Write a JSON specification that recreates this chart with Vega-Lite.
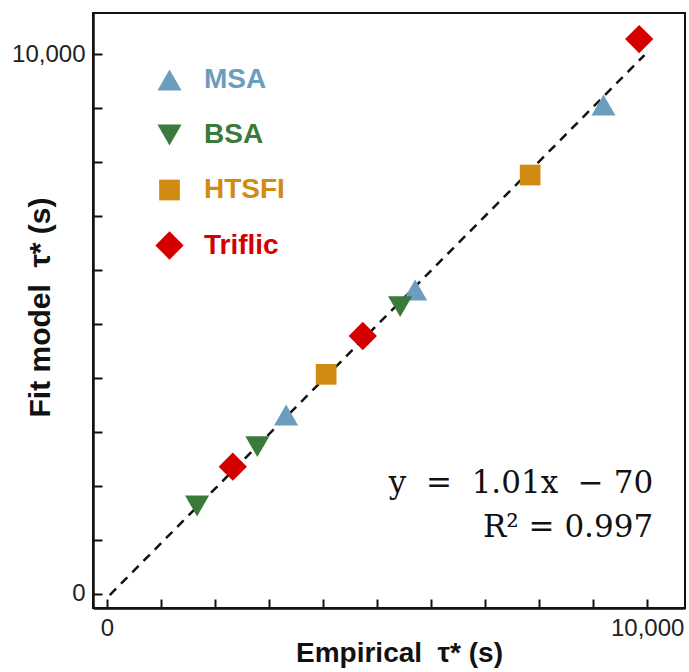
{
  "$schema": "https://vega.github.io/schema/vega-lite/v6.json",
  "width": 592,
  "height": 595,
  "autosize": {"type": "none"},
  "padding": {"left": 93, "top": 13, "right": 4, "bottom": 64},
  "background": "white",
  "config": {
    "view": {"stroke": "#111", "strokeWidth": 2},
    "axis": {
      "grid": false,
      "domainColor": "#111",
      "domainWidth": 2.5,
      "tickColor": "#111",
      "tickWidth": 2,
      "tickSize": -9,
      "labelFont": "Liberation Sans",
      "labelFontSize": 24,
      "labelColor": "#222",
      "titleFont": "Liberation Sans",
      "titleFontSize": 28,
      "titleFontWeight": "bold",
      "titleColor": "#111"
    }
  },
  "datasets": {
    "points": [
      {"type": "MSA", "empirical": 3315, "fit": 3315},
      {"type": "MSA", "empirical": 5704, "fit": 5630},
      {"type": "MSA", "empirical": 9191, "fit": 9056},
      {"type": "BSA", "empirical": 1667, "fit": 1630},
      {"type": "BSA", "empirical": 2783, "fit": 2728},
      {"type": "BSA", "empirical": 5426, "fit": 5321},
      {"type": "HTSFI", "empirical": 4056, "fit": 4068},
      {"type": "HTSFI", "empirical": 7833, "fit": 7759},
      {"type": "Triflic", "empirical": 2328, "fit": 2357},
      {"type": "Triflic", "empirical": 4735, "fit": 4778},
      {"type": "Triflic", "empirical": 9852, "fit": 10278}
    ],
    "fitline": [
      {"empirical": 50, "fit": -20},
      {"empirical": 9950, "fit": 9980}
    ]
  },
  "layer": [
    {
      "data": {"name": "fitline"},
      "mark": {"type": "line", "color": "#111", "strokeWidth": 2.5, "strokeDash": [9, 7]},
      "encoding": {
        "x": {
          "field": "empirical", "type": "quantitative", "title": "Empirical\u00a0\u00a0τ*\u00a0(s)",
          "scale": {"domain": [-260, 10700], "nice": false, "zero": false},
          "axis": {
            "values": [0, 1000, 2000, 3000, 4000, 5000, 6000, 7000, 8000, 9000, 10000],
            "labelExpr": "datum.value == 0 || datum.value == 10000 ? format(datum.value, ',') : ''",
            "labelPadding": 17,
            "labelFlush": false,
            "titleX": 306,
            "titleY": 53,
            "titleBaseline": "alphabetic"
          }
        },
        "y": {
          "field": "fit", "type": "quantitative", "title": "Fit model\u00a0\u00a0τ*\u00a0(s)",
          "scale": {"domain": [-260, 10760], "nice": false, "zero": false},
          "axis": {
            "values": [0, 1000, 2000, 3000, 4000, 5000, 6000, 7000, 8000, 9000, 10000],
            "labelExpr": "datum.value == 0 || datum.value == 10000 ? format(datum.value, ',') : ''",
            "labelPadding": 17,
            "labelFlush": false,
            "titleX": -53,
            "titleY": 294,
            "titleBaseline": "middle",
            "titleAngle": -90,
            "titleFontSize": 30
          }
        }
      }
    },
    {
      "data": {"name": "points"},
      "mark": {"type": "point", "filled": true, "opacity": 1, "strokeWidth": 0},
      "encoding": {
        "x": {"field": "empirical", "type": "quantitative", "title": "Empirical\u00a0\u00a0τ*\u00a0(s)"},
        "y": {"field": "fit", "type": "quantitative", "title": "Fit model\u00a0\u00a0τ*\u00a0(s)"},
        "color": {
          "field": "type", "type": "nominal",
          "scale": {"domain": ["MSA", "BSA", "HTSFI", "Triflic"], "range": ["#6b9dbd", "#3a7a3a", "#d08b12", "#d40000"]},
          "legend": {
            "orient": "none",
            "legendX": 62,
            "legendY": 53,
            "title": null,
            "padding": 0,
            "labelFont": "Liberation Sans",
            "labelFontSize": 28,
            "labelFontWeight": "bold",
            "labelOffset": 20,
            "rowPadding": 27,
            "symbolStrokeWidth": 0,
            "labelColor": {"expr": "scale('color', datum.value)"}
          }
        },
        "shape": {
          "field": "type", "type": "nominal",
          "scale": {"domain": ["MSA", "BSA", "HTSFI", "Triflic"], "range": ["triangle-up", "triangle-down", "square", "diamond"]}
        },
        "size": {
          "field": "type", "type": "nominal",
          "scale": {"type": "ordinal", "domain": ["MSA", "BSA", "HTSFI", "Triflic"], "range": [580, 580, 430, 800]}
        }
      }
    },
    {
      "data": {"values": [{}]},
      "mark": {"type": "text", "align": "right", "baseline": "alphabetic", "font": "DejaVu Serif", "fontSize": 31, "color": "#111", "lineHeight": 44},
      "encoding": {
        "x": {"datum": 10110, "type": "quantitative"},
        "y": {"datum": 1870, "type": "quantitative"},
        "text": {"value": ["y\u00a0\u00a0=\u00a0\u00a01.01x\u00a0\u00a0− 70", "R² = 0.997"]}
      }
    }
  ]
}
